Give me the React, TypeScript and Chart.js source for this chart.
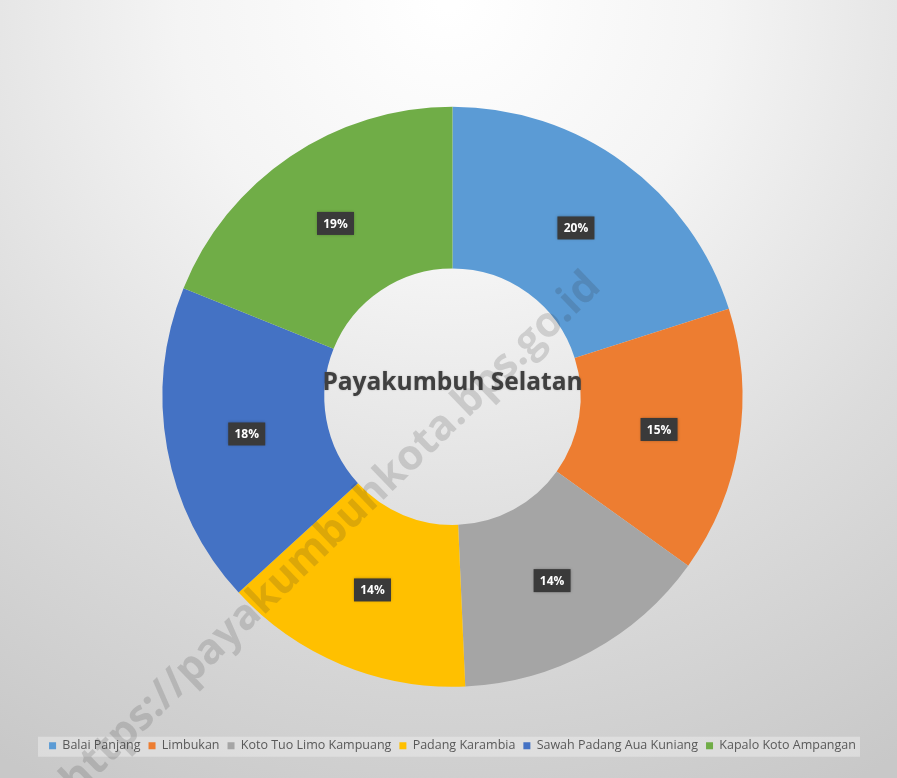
import React, { useEffect, useRef } from "react";
import { Chart, registerables } from "chart.js";

Chart.register(...registerables);

const categories = [
  "Balai Panjang",
  "Limbukan",
  "Koto Tuo Limo Kampuang",
  "Padang Karambia",
  "Sawah Padang Aua Kuniang",
  "Kapalo Koto Ampangan",
];
const shares = [20.1, 14.8, 14.4, 13.9, 17.9, 18.9];
const sliceColors = ["#5B9BD5", "#ED7D31", "#A5A5A5", "#FFC000", "#4472C4", "#70AD47"];
const centerTitle = "Payakumbuh Selatan";
const watermark = "https://payakumbuhkota.bps.go.id";

const bgPlugin = {
  id: "bgPlugin",
  beforeDraw(chart: any) {
    const { ctx, width, height } = chart;
    ctx.save();
    const g = ctx.createRadialGradient(width * 0.5, 0, 10, width * 0.5, 0, 880);
    g.addColorStop(0, "#ffffff");
    g.addColorStop(0.3, "#f4f4f4");
    g.addColorStop(0.65, "#dcdcdc");
    g.addColorStop(1, "#c8c8c8");
    ctx.fillStyle = g;
    ctx.fillRect(0, 0, width, height);
    const lg = chart.legend;
    if (lg) {
      ctx.fillStyle = "rgba(232,232,232,0.6)";
      ctx.fillRect(38, lg.top + lg.height / 2 - 10, 822, 20);
    }
    ctx.restore();
  },
  afterDatasetsDraw(chart: any) {
    const { ctx } = chart;
    const meta = chart.getDatasetMeta(0);
    const arc0 = meta.data[0];
    const cx = arc0.x;
    const cy = arc0.y;
    ctx.save();
    const total = shares.reduce((a, b) => a + b, 0);
    meta.data.forEach((arc: any, i: number) => {
      const p = arc.tooltipPosition();
      const txt = Math.round((shares[i] / total) * 100) + "%";
      const w = 37;
      const h = 23;
      ctx.fillStyle = "#3a3a3a";
      ctx.shadowColor = "rgba(0,0,0,0.35)";
      ctx.shadowBlur = 3;
      ctx.fillRect(p.x - w / 2, p.y - h / 2, w, h);
      ctx.shadowBlur = 0;
      ctx.fillStyle = "#ffffff";
      ctx.font = "bold 12px 'Open Sans', sans-serif";
      ctx.textAlign = "center";
      ctx.textBaseline = "middle";
      ctx.fillText(txt, p.x, p.y + 1);
    });
    ctx.fillStyle = "#404040";
    ctx.shadowColor = "rgba(0,0,0,0.25)";
    ctx.shadowBlur = 2;
    ctx.font = "bold 24.5px 'Open Sans', sans-serif";
    ctx.textAlign = "center";
    ctx.textBaseline = "middle";
    ctx.fillText(centerTitle, cx, cy - 14);
    ctx.shadowBlur = 0;
    ctx.restore();
  },
  afterDraw(chart: any) {
    const { ctx } = chart;
    ctx.save();
    ctx.translate(594, 280);
    ctx.rotate(-(44 * Math.PI) / 180);
    ctx.fillStyle = "rgba(50,50,50,0.17)";
    ctx.font = "bold 42px 'Open Sans', sans-serif";
    ctx.textAlign = "right";
    ctx.textBaseline = "middle";
    ctx.fillText(watermark, 0, 0);
    ctx.restore();
  },
};

export default function App() {
  const ref = useRef<HTMLCanvasElement>(null);
  useEffect(() => {
    document.body.style.margin = "0";
    const chart = new Chart(ref.current!, {
      type: "doughnut",
      data: {
        labels: categories,
        datasets: [
          {
            data: shares,
            backgroundColor: sliceColors,
            borderWidth: 0,
            radius: 290,
            cutout: 148,
          } as any,
        ],
      },
      options: {
        animation: false,
        responsive: false,
        layout: { padding: { top: 62, bottom: 16, left: 8, right: 0 } },
        plugins: {
          tooltip: { enabled: false },
          legend: {
            position: "bottom",
            labels: {
              boxWidth: 7,
              boxHeight: 7,
              padding: 8,
              color: "#595959",
              font: { size: 12.5, family: "'Open Sans', sans-serif" },
            },
          },
        },
      },
      plugins: [bgPlugin],
    });
    return () => chart.destroy();
  }, []);
  return (
    <div style={{ width: 897, height: 778, position: "relative" }}>
      <canvas ref={ref} width={897} height={778} style={{ display: "block" }} />
    </div>
  );
}
